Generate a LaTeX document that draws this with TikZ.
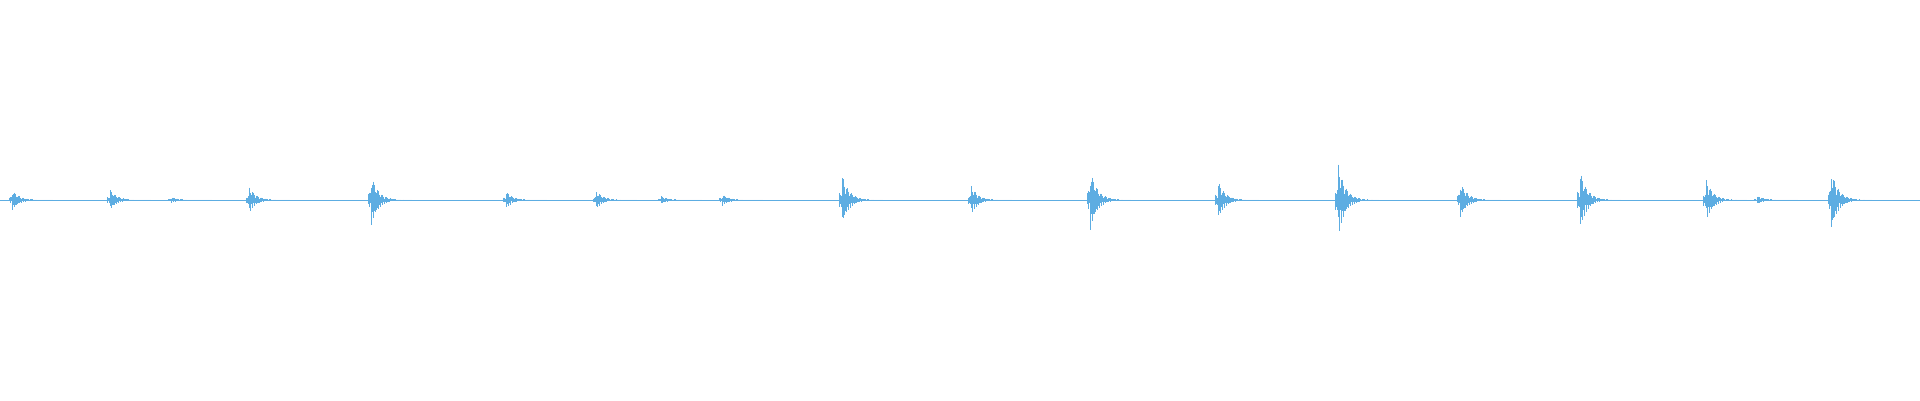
\documentclass[tikz,border=0pt]{standalone}
\definecolor{wave}{HTML}{5DADE2}
\begin{document}
\begin{tikzpicture}[x=1pt,y=1pt,wv/.style={draw=wave,line width=1pt}]
\useasboundingbox (0,0) rectangle (1920,400);
\fill[white] (0,0) rectangle (1920,400);
\draw[wave,line width=1pt] (0,200) -- (1920,200);
\foreach \bx/\ba in {12/10,110/10,171/3,249/13,371/25,506/8,596/9,661/4,722/6,842/24,971/14,1090/30,1218/18,1338/36,1460/18,1580/28,1706/20,1757/4,1831/30}{
  \foreach \i in {-3,...,40}{
    \pgfmathsetmacro{\a}{\ba*exp(-max(\i,0)/7)*(0.35+0.65*abs(sin(\i*137.5+\bx)))*(\i<0?0.3:1)}
    \pgfmathsetmacro{\b}{\ba*exp(-max(\i,0)/7)*(0.35+0.65*abs(cos(\i*97.3+\bx)))*(\i<0?0.3:1)}
    \draw[wv,line width=0.8pt] (\bx+\i,200+\a) -- (\bx+\i,200-\b);
  }
}
\end{tikzpicture}
\end{document}
